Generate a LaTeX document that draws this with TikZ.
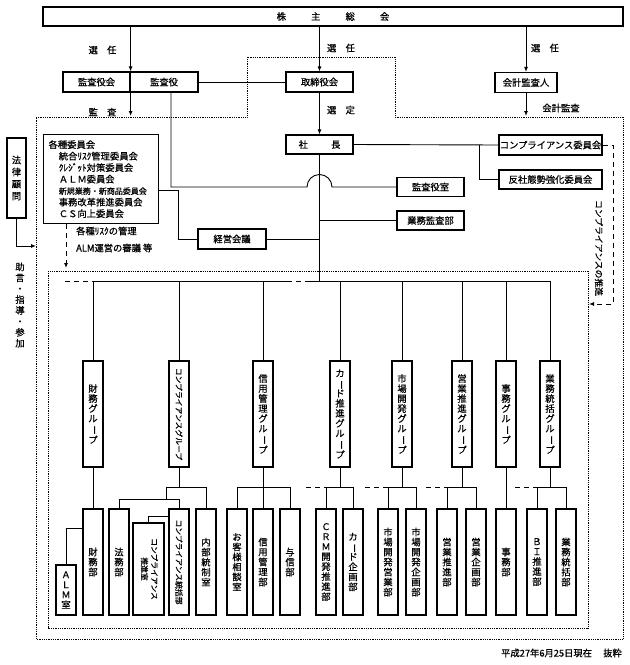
\documentclass[tikz,border=0pt]{standalone}
\usepackage{fontspec}
\setmainfont{Noto Sans CJK JP}[FakeBold=0.6]
\usepackage{tikz}
\usetikzlibrary{arrows.meta}

\tikzset{
  box/.style={draw, line width=1.2pt, fill=white, inner sep=0pt, align=center, font=\fontsize{9.3}{10}\selectfont},
  tbox/.style={box, minimum width=20pt},
  lbl/.style={inner sep=0pt, font=\fontsize{9.3}{11}\selectfont},
  con/.style={line width=0.9pt},
  arr/.style={con, -{Latex[length=5pt,width=4pt]}},
  dsh/.style={con, dash pattern=on 5pt off 4pt},
  dot/.style={line width=0.7pt, dash pattern=on 0.9pt off 0.9pt},
}
\newcommand{\cho}{\rotatebox[origin=c]{-90}{ー}}
\newcommand{\yoko}[1]{\rotatebox[origin=c]{-90}{#1}}

\begin{document}
\begin{tikzpicture}[x=1pt, y=-1pt]
\useasboundingbox (0,0) rectangle (630,665);

% 株主総会
\node[box, minimum width=580pt, minimum height=19pt] (soukai) at (333,16.5) {株\hspace{2.7em}主\hspace{2.7em}総\hspace{2.7em}会};

% 監査役会・取締役会・会計監査人
\node[box, minimum width=67pt, minimum height=20pt] (kansakai) at (96.5,82) {監査役会};
\node[box, minimum width=68pt, minimum height=20pt] (kansayaku) at (164,82) {監査役};
\node[box, minimum width=67pt, minimum height=20pt] (torishimari) at (319.5,82) {取締役会};
\node[box, minimum width=62pt, minimum height=20pt] (kaikei) at (526,82.5) {会計監査人};
\draw[arr] (soukai.south -| kansakai.north east) -- (kansakai.north east);
\draw[arr] (soukai.south -| torishimari.north) -- (torishimari.north);
\draw[arr] (soukai.south -| kaikei.north) -- (kaikei.north);
\draw[con] (kansayaku.east) -- (torishimari.west);
\node[lbl] (sennin1) at (102.5,50) {選\hspace{1em}任};
\node[lbl] (sennin2) at (341,48) {選\hspace{1em}任};
\node[lbl] (sennin3) at (545,48) {選\hspace{1em}任};

% 外側の点線枠
\draw[dot] (36,117) -- (247,117) -- (247,57) -- (395,57) -- (395,117) -- (623,117) -- (623,639) -- (36,639) -- cycle;
\coordinate (sotoN) at (0,116);
\draw[arr] (kansakai.south east) -- (kansakai.south east |- sotoN);
\node[lbl] (kansa) at (102.5,112) {監\hspace{1em}査};
\draw[arr] (kaikei.south) -- (kaikei.south |- sotoN);
\node[lbl] (kaikeikansa) at (561,108) {会計監査};

% 社長
\node[box, minimum width=67pt, minimum height=19pt] (shacho) at (319.5,144.5) {社\hspace{2.5em}長};
\draw[arr] (torishimari.south) -- (shacho.north);
\node[lbl] (sentei) at (341,110) {選\hspace{1em}定};

\node[box, minimum width=103pt, minimum height=20pt] (compiin) at (550.5,145) {コンプライアンス委員会};
\node[box, minimum width=103pt, minimum height=19pt] (hansha) at (550.5,179.5) {反社態勢強化委員会};
\draw[con] (shacho.east) -- (compiin.west);
\coordinate (bunki) at (479,145);
\draw[con] (bunki) |- (hansha.west);

\node[box, minimum width=67pt, minimum height=19pt] (kansashitsu) at (430.5,187) {監査役室};
\node[box, minimum width=67pt, minimum height=19pt] (gyomukansa) at (430.5,220.5) {業務監査部};
\node[box, minimum width=68pt, minimum height=20pt] (keiei) at (232,239) {経営会議};

\coordinate (bus) at (0,281);
\draw[con] (shacho.south) -- (shacho.south |- bus);
\draw[con] ([xshift=7pt]kansayaku.south) |- (307,187) arc[start angle=180, end angle=0, radius=12.5pt] -- (kansashitsu.west);
\draw[con] (shacho.south |- gyomukansa.west) -- (gyomukansa.west);
\draw[con] (keiei.east) -- (keiei.east -| shacho.south);

% 各種委員会
\node[box, anchor=north west, minimum width=115pt, minimum height=89pt, text width=105pt, inner xsep=5pt, align=left, font=\fontsize{9.3}{11.5}\selectfont] (iinkai) at (43,134) {各種委員会\\
\hspace*{1.1em}統合ﾘｽｸ管理委員会\\
\hspace*{1.1em}ｸﾚｼﾞｯﾄ対策委員会\\
\hspace*{1.1em}ＡＬＭ委員会\\
\hspace*{1.1em}{\fontsize{8}{11.5}\selectfont 新規業務・新商品委員会}\\
\hspace*{1.1em}事務改革推進委員会\\
\hspace*{1.1em}ＣＳ向上委員会};
\draw[con] (iinkai.east |- 0,190) -- (178,190) |- (keiei.west);
\coordinate (risk) at (66,268);
\draw[dsh, -{Latex[length=5pt,width=4pt]}] (iinkai.south -| risk) -- (risk);
\node[lbl, anchor=west] (riskkanri) at (76,231) {各種ﾘｽｸの管理};
\node[lbl, anchor=west] (almshingi) at (76,248) {ALM運営の審議 等};

% 法律顧問
\node[box, minimum width=19pt, minimum height=80pt, font=\fontsize{9.3}{12}\selectfont] (houritsu) at (16.5,178) {法\\律\\顧\\問};
\coordinate (sotoW) at (36,246);
\draw[arr] (houritsu.south) |- (sotoW);
\node[lbl, align=center, font=\fontsize{9.3}{10.9}\selectfont] (jogen) at (20,305) {助\\言\\・\\指\\導\\・\\参\\加};

% 内側の点線枠
\draw[dot] (48,271) rectangle (588,628);

% コンプライアンスの推進
\coordinate (uchiE) at (589,304);
\draw[dsh, -{Latex[length=5pt,width=4pt]}] (compiin.east) -- (613,145) |- (uchiE);
\node[lbl, font=\fontsize{8.8}{10}\selectfont] (suishin) at (599,248) {\yoko{コンプライアンスの推進}};

% グループ
\node[tbox, minimum height=106pt] (g1) at (93,414) {財\\務\\グ\\ル\\\cho\\プ};
\node[tbox, minimum height=106pt, font=\fontsize{7.8}{9}\selectfont] (g2) at (179,414) {\yoko{コンプライアンスグループ}};
\node[tbox, minimum height=106pt] (g3) at (263,414) {信\\用\\管\\理\\グ\\ル\\\cho\\プ};
\node[tbox, minimum height=106pt] (g4) at (340,414) {カ\\\cho\\ド\\推\\進\\グ\\ル\\\cho\\プ};
\node[tbox, minimum height=106pt] (g5) at (402,414) {市\\場\\開\\発\\グ\\ル\\\cho\\プ};
\node[tbox, minimum height=106pt] (g6) at (462,414) {営\\業\\推\\進\\グ\\ル\\\cho\\プ};
\node[tbox, minimum height=106pt] (g7) at (506,414) {事\\務\\グ\\ル\\\cho\\プ};
\node[tbox, minimum height=106pt] (g8) at (550,414) {業\\務\\統\\括\\グ\\ル\\\cho\\プ};

\draw[dsh] (65,281) -- (g1.north |- bus);
\draw[con] (g1.north |- bus) -- (287,281);
\draw[dsh] (287,281) -- (310,281);
\draw[con] (310,281) -- (g8.north |- bus);
\draw[con] (g1.north) -- (g1.north |- bus) (g2.north) -- (g2.north |- bus)
  (g3.north) -- (g3.north |- bus) (g4.north) -- (g4.north |- bus)
  (g5.north) -- (g5.north |- bus) (g6.north) -- (g6.north |- bus)
  (g7.north) -- (g7.north |- bus) (g8.north) -- (g8.north |- bus);

% 部・室
\node[tbox, minimum height=50pt] (almshitsu) at (66,590) {Ａ\\Ｌ\\Ｍ\\室};
\node[tbox, minimum height=106pt] (zaimubu) at (93,562) {財\\務\\部};
\node[tbox, minimum height=106pt] (houmubu) at (119,562) {法\\務\\部};
\node[box, minimum width=31pt, minimum height=92pt, font=\fontsize{7.8}{10}\selectfont] (suishinshitsu) at (148.5,569) {\yoko{\begin{tabular}{@{}c@{}}コンプライアンス\\推進室\end{tabular}}};
\node[tbox, minimum height=106pt, font=\fontsize{7.8}{9}\selectfont] (tokatsushitsu) at (179,562) {\yoko{コンプライアンス統括部}};
\node[tbox, minimum height=106pt] (naibu) at (206,562) {内\\部\\統\\制\\室};
\node[tbox, minimum height=106pt] (okyaku) at (237,562) {お\\客\\様\\相\\談\\室};
\node[tbox, minimum height=106pt] (shinyobu) at (263,562) {信\\用\\管\\理\\部};
\node[tbox, minimum height=106pt] (yoshinbu) at (290,562) {与\\信\\部};
\node[tbox, minimum height=106pt] (crm) at (326,562) {Ｃ\\Ｒ\\Ｍ\\開\\発\\推\\進\\部};
\node[tbox, minimum height=106pt] (cardkikaku) at (353,562) {カ\\\cho\\ド\\企\\画\\部};
\node[tbox, minimum height=106pt] (shijoeigyo) at (388,562) {市\\場\\開\\発\\営\\業\\部};
\node[tbox, minimum height=106pt] (shijokikaku) at (416,562) {市\\場\\開\\発\\企\\画\\部};
\node[tbox, minimum height=106pt] (eigyosuishin) at (447,562) {営\\業\\推\\進\\部};
\node[tbox, minimum height=106pt] (eigyokikaku) at (476,562) {営\\業\\企\\画\\部};
\node[tbox, minimum height=106pt] (jimubu) at (506,562) {事\\務\\部};
\node[tbox, minimum height=106pt] (bi) at (537,562) {Ｂ\\Ｉ\\推\\進\\部};
\node[tbox, minimum height=106pt] (tokatsubu) at (566,562) {業\\務\\統\\括\\部};

\coordinate (brk) at (0,487);
% 財務
\draw[con] (g1.south) -- (zaimubu.north);
\draw[con] (almshitsu.north) |- (zaimubu.west |- 0,528);
% コンプライアンス
\draw[con] (g2.south) -- (g2.south |- brk);
\draw[con] (naibu.north) |- (166,487) -- (166,499);
\draw[con] (houmubu.north) |- (tokatsushitsu.north |- 0,499) -- (tokatsushitsu.north);
\draw[con] (suishinshitsu.north) |- (tokatsushitsu.west |- 0,516);
% 信用管理
\draw[con] (g3.south) -- (shinyobu.north);
\draw[con] (okyaku.north) |- (yoshinbu.north |- brk) -- (yoshinbu.north);
% カード推進
\draw[con] (g4.south) -- (g4.south |- brk);
\draw[con] (crm.north) |- (cardkikaku.north |- brk) -- (cardkikaku.north);
\draw[dsh] (306,487) -- (crm.north |- brk);
% 市場開発
\draw[con] (g5.south) -- (g5.south |- brk);
\draw[con] (shijoeigyo.north) |- (shijokikaku.north |- brk) -- (shijokikaku.north);
\draw[dsh] (365,487) -- (shijoeigyo.north |- brk);
% 営業推進
\draw[con] (g6.south) -- (g6.south |- brk);
\draw[con] (eigyosuishin.north) |- (eigyokikaku.north |- brk) -- (eigyokikaku.north);
\draw[dsh] (426,487) -- (eigyosuishin.north |- brk);
% 事務
\draw[con] (g7.south) -- (jimubu.north);
% 業務統括
\draw[con] (g8.south) -- (g8.south |- brk);
\draw[con] (bi.north) |- (tokatsubu.north |- brk) -- (tokatsubu.north);
\draw[dsh] (515,487) -- (bi.north |- brk);

\node[lbl, anchor=east] (hizuke) at (622,653) {平成27年6月25日現在\hspace{1.2em}抜粋};
\end{tikzpicture}
\end{document}
